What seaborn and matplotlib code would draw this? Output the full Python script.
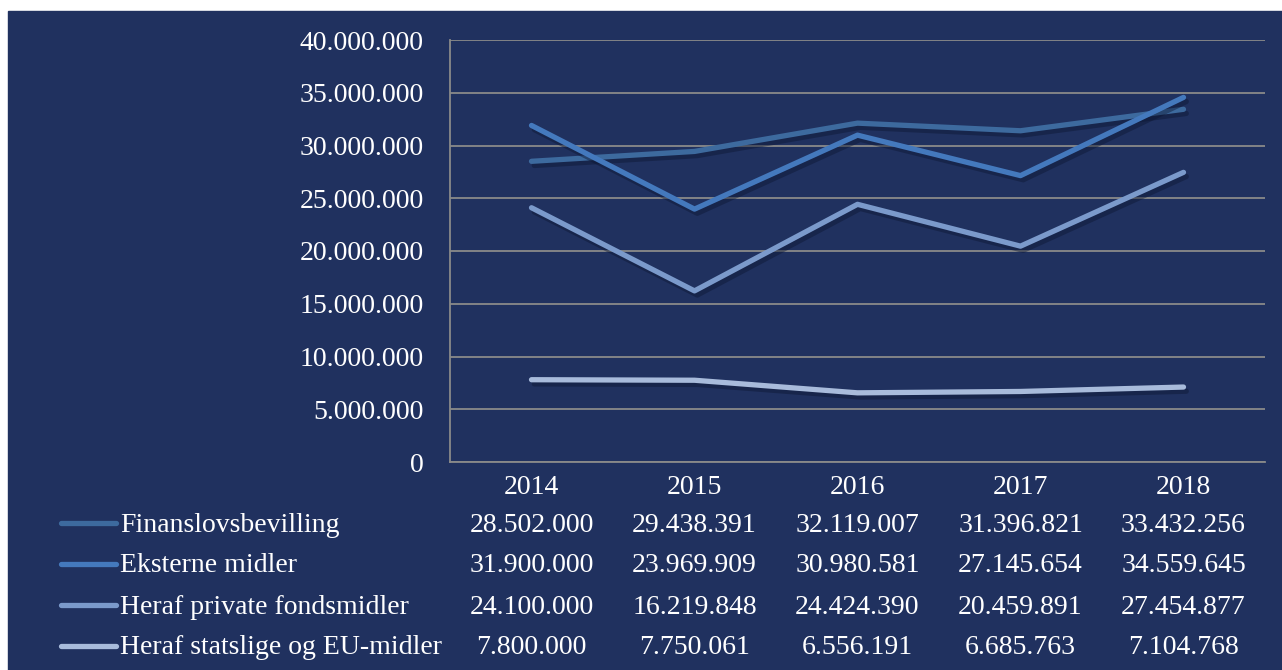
import pandas as pd
import seaborn as sns
import matplotlib.pyplot as plt
import matplotlib.patheffects as pe
from matplotlib.patches import Rectangle
from matplotlib.transforms import blended_transform_factory
from matplotlib.ticker import FuncFormatter

# %% Data
years = ["2014", "2015", "2016", "2017", "2018"]
finanslov = [28502000, 29438391, 32119007, 31396821, 33432256]
eksterne = [31900000, 23969909, 30980581, 27145654, 34559645]
private = [24100000, 16219848, 24424390, 20459891, 27454877]
statslige = [7800000, 7750061, 6556191, 6685763, 7104768]
series_names = ["Finanslovsbevilling", "Eksterne midler",
                "Heraf private fondsmidler", "Heraf statslige og EU-midler"]
colors = ["#3d6a9e", "#4479bd", "#7b9acb", "#a8bbdb"]

series = [finanslov, eksterne, private, statslige]
df = pd.DataFrame([
    {"year": y, "value": v, "series": name}
    for name, vals in zip(series_names, series)
    for y, v in zip(years, vals)
])

def dots(v):
    return f"{int(round(v)):,}".replace(",", ".")

# %% Plot
navy = "#20315f"
sns.set_style("white")
plt.rcParams["font.family"] = ["Liberation Serif", "DejaVu Serif"]
fs = 20

fig = plt.figure(figsize=(12.82, 6.70), dpi=100, facecolor="white")
fig.patches.append(Rectangle((8 / 1282, 0), 1, 1 - 11 / 670,
                             transform=fig.transFigure, color=navy, zorder=-10))
ax = fig.add_axes([450 / 1282, 1 - 462 / 670, 815 / 1282, 422 / 670])
ax.set_facecolor(navy)

sns.lineplot(data=df, x="year", y="value", hue="series", palette=colors,
             linewidth=3.8, sort=False, legend=False, ax=ax,
             solid_capstyle="round")
for line in ax.lines:
    line.set_path_effects([pe.SimpleLineShadow(offset=(2, -3), shadow_color="#0d1733",
                                               alpha=0.45), pe.Normal()])

ax.set_xlim(-0.5, len(years) - 0.5)
ax.set_ylim(0, 40000000)
ax.set_yticks(range(0, 40000001, 5000000))
ax.yaxis.set_major_formatter(FuncFormatter(lambda v, p: dots(v)))
ax.grid(axis="y", color="#8a8a8a", linewidth=1.3)
ax.set_axisbelow(True)
for s in ["top", "right"]:
    ax.spines[s].set_visible(False)
for s in ["left", "bottom"]:
    ax.spines[s].set_color("#8a8a8a")
    ax.spines[s].set_linewidth(1.3)
ax.tick_params(axis="both", colors="white", labelsize=fs, length=0)
ax.tick_params(axis="y", pad=19)
ax.tick_params(axis="x", pad=9)
ax.set_xlabel("")
ax.set_ylabel("")

# data table below the chart
trans = blended_transform_factory(ax.transData, fig.transFigure)
row_y = [525, 566, 607, 648]
for name, vals, col, ry in zip(series_names, series, colors, row_y):
    fy = 1 - ry / 670
    fig.add_artist(plt.Line2D([61 / 1282, 116 / 1282], [fy + 2 / 670, fy + 2 / 670],
                              color=col, linewidth=3.8, solid_capstyle="round"))
    fig.text(120 / 1282, fy, name, color="white", fontsize=fs, va="center")
    for i, v in enumerate(vals):
        ax.text(i, fy, dots(v), transform=trans, color="white", fontsize=fs,
                ha="center", va="center", clip_on=False)

fig.savefig("out.png", dpi=100, facecolor="white")
